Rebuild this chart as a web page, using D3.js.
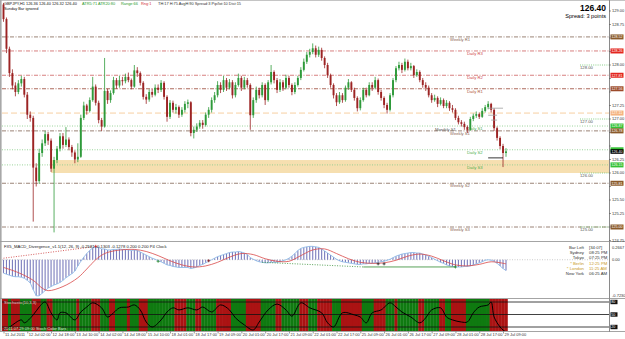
<!DOCTYPE html>
<html><head><meta charset="utf-8">
<script src="https://cdn.jsdelivr.net/npm/d3@7"></script>
<style>
html,body{margin:0;padding:0;background:#fff;}
svg{display:block;font-family:"Liberation Sans",Arial,sans-serif;}
</style></head><body>
<svg id="c" width="625" height="339"></svg>
<script>
// ---------------- DATA ----------------
const opens = [129.12,128.85,128.30,127.85,127.62,127.50,127.66,127.74,127.45,127.08,
127.02,126.10,125.85,126.37,126.55,126.72,126.60,126.08,126.24,126.45,
126.68,126.52,126.62,126.48,126.38,126.25,126.30,127.02,127.25,127.15,
127.35,127.60,127.30,126.98,126.86,127.52,127.35,127.48,127.72,127.62,
127.72,127.70,127.78,127.72,127.60,127.90,127.85,127.67,127.41,127.36,
127.50,127.45,127.58,127.54,127.67,127.41,127.04,127.30,127.17,127.22,
127.08,127.17,127.28,127.31,126.74,126.80,126.86,126.93,126.89,127.08,
127.17,127.35,127.44,127.63,127.54,127.72,127.58,127.68,127.44,127.63,
127.76,127.58,127.72,127.63,127.07,127.35,127.54,127.44,127.63,127.35,
127.68,127.87,127.72,127.54,127.68,127.58,127.76,127.63,127.50,127.63,
127.76,127.91,128.06,128.19,128.24,128.31,128.19,128.28,128.13,128.00,
127.81,127.63,127.44,127.31,127.44,127.35,127.58,127.68,127.54,127.39,
127.20,127.35,127.54,127.44,127.63,127.58,127.72,127.50,127.39,127.26,
127.17,127.44,127.72,127.94,128.00,127.91,128.06,127.94,127.98,127.81,
127.87,127.72,127.63,127.58,127.44,127.35,127.39,127.28,127.35,127.24,
127.30,127.20,127.17,127.02,126.94,126.91,126.85,126.80,127.00,127.06,
127.09,127.04,127.15,127.22,127.28,127.17,126.83,126.65,126.50,126.37];
const highs = [129.15,128.88,128.34,127.92,127.68,127.72,127.80,127.78,127.50,127.14,
127.06,126.18,126.45,126.62,126.78,126.76,126.64,126.30,126.50,126.74,
126.74,126.85,126.66,126.52,126.42,126.55,127.08,127.32,127.28,127.40,
127.78,127.64,127.34,127.02,128.13,127.56,127.53,127.78,127.76,127.80,
127.78,127.84,127.86,127.75,128.00,127.96,127.88,127.70,127.46,127.55,
127.56,127.64,127.64,127.72,127.70,127.44,127.35,127.34,127.28,127.25,
127.22,127.33,127.36,127.33,126.86,126.92,126.98,126.98,127.12,127.22,
127.40,127.50,127.70,127.68,127.80,127.76,127.74,127.72,127.68,127.84,
127.80,127.78,127.76,127.66,127.40,127.60,127.58,127.68,127.66,127.72,
128.00,127.90,127.76,127.74,127.72,127.82,127.80,127.66,127.68,127.80,
127.96,128.12,128.24,128.30,128.40,128.36,128.34,128.32,128.16,128.04,
127.84,127.66,127.48,127.50,127.48,127.62,127.74,127.70,127.58,127.42,
127.40,127.58,127.58,127.68,127.68,127.78,127.75,127.54,127.42,127.30,
127.48,127.76,127.98,128.06,128.04,128.12,128.10,128.04,128.00,127.92,
127.90,127.76,127.68,127.62,127.48,127.45,127.42,127.40,127.38,127.35,
127.33,127.26,127.20,127.06,126.98,126.95,126.88,127.04,127.10,127.14,
127.12,127.20,127.26,127.33,127.30,127.20,126.86,126.68,126.54,126.46];
const lows = [128.80,128.22,127.78,127.55,127.42,127.46,127.60,127.40,127.00,126.95,
125.10,125.75,125.80,126.30,126.50,126.52,126.02,124.90,126.18,126.40,
126.45,126.48,126.42,126.30,126.18,126.20,126.28,126.98,127.08,127.12,
127.32,127.25,126.92,126.78,126.84,127.28,127.30,127.45,127.56,127.58,
127.62,127.66,127.68,127.55,127.58,127.78,127.62,127.36,127.28,127.32,
127.40,127.42,127.48,127.50,127.36,126.95,127.00,127.12,127.10,127.02,
127.04,127.12,127.20,126.68,126.64,126.76,126.82,126.82,126.86,127.02,
127.12,127.30,127.40,127.48,127.50,127.52,127.55,127.38,127.40,127.60,
127.52,127.55,127.58,126.80,127.02,127.30,127.38,127.40,127.26,127.32,
127.64,127.66,127.48,127.50,127.52,127.55,127.58,127.44,127.46,127.60,
127.72,127.88,128.02,128.14,128.20,128.14,128.15,128.08,127.94,127.76,
127.58,127.38,127.24,127.28,127.30,127.32,127.54,127.50,127.34,127.14,
127.16,127.32,127.40,127.42,127.52,127.55,127.45,127.34,127.20,127.10,
127.14,127.40,127.68,127.90,127.85,127.88,127.90,127.90,127.76,127.78,
127.68,127.58,127.52,127.40,127.30,127.32,127.22,127.25,127.20,127.20,
127.15,127.12,126.98,126.90,126.86,126.80,126.74,126.78,126.96,127.02,
127.00,127.02,127.12,127.18,127.12,126.78,126.60,126.44,126.11,126.30];
const closes = [128.85,128.30,127.85,127.62,127.50,127.66,127.74,127.45,127.08,127.02,
126.10,125.85,126.37,126.55,126.72,126.60,126.08,126.24,126.45,126.68,
126.52,126.62,126.48,126.38,126.25,126.30,127.02,127.25,127.15,127.35,
127.60,127.30,126.98,126.86,127.52,127.35,127.48,127.72,127.62,127.72,
127.70,127.78,127.72,127.60,127.90,127.85,127.67,127.41,127.36,127.50,
127.45,127.58,127.54,127.67,127.41,127.04,127.30,127.17,127.22,127.08,
127.17,127.28,127.31,126.74,126.80,126.86,126.93,126.89,127.08,127.17,
127.35,127.44,127.63,127.54,127.72,127.58,127.68,127.44,127.63,127.76,
127.58,127.72,127.63,127.07,127.35,127.54,127.44,127.63,127.35,127.68,
127.87,127.72,127.54,127.68,127.58,127.76,127.63,127.50,127.63,127.76,
127.91,128.06,128.19,128.24,128.31,128.19,128.28,128.13,128.00,127.81,
127.63,127.44,127.31,127.44,127.35,127.58,127.68,127.54,127.39,127.20,
127.35,127.54,127.44,127.63,127.58,127.72,127.50,127.39,127.26,127.17,
127.44,127.72,127.94,128.00,127.91,128.06,127.94,127.98,127.81,127.87,
127.72,127.63,127.58,127.44,127.35,127.39,127.28,127.35,127.24,127.30,
127.20,127.17,127.02,126.94,126.91,126.85,126.80,127.00,127.06,127.09,
127.04,127.15,127.22,127.28,127.17,126.83,126.65,126.50,126.37,126.40];

const timeLabelIdx = [0,8,16,24,32,40,48,56,64,72,80,88,96,104,112,120,128,136,144,152,160,168];
const timeLabels = ["11 Jul 2011","12 Jul 02:00","12 Jul 18:00","13 Jul 10:00","14 Jul 02:00","14 Jul 18:00","15 Jul 10:00","18 Jul 01:00","18 Jul 17:00","19 Jul 09:00","20 Jul 01:00","20 Jul 17:00","21 Jul 09:00","22 Jul 01:00","22 Jul 17:00","25 Jul 09:00","26 Jul 01:00","26 Jul 17:00","27 Jul 09:00","28 Jul 01:00","28 Jul 17:00","29 Jul 09:00"];

const priceTicks = [129.00,128.75,128.50,128.25,128.00,127.75,127.50,127.25,127.00,126.75,126.50,126.25,126.00,125.75,125.50,125.25,125.00,124.75];
const roundLevels = [128.00,127.00,126.00,125.00];

const levelNames  = ["Weekly R1","Daily R3","Daily R2","Daily R1","Daily Pivot","Daily S1","Monthly S1","Weekly S1","Daily S2","Daily S3","Weekly S2","Weekly S3"];
const levelValues = [128.52,128.26,127.81,127.56,127.11,126.87,126.86,126.78,126.43,126.15,125.81,125.00];
const levelKinds  = ["weekly","dailyR","dailyR","dailyR1","pivot","dailyS","monthly","weekly","dailyS","dailyS","weekly","weekly"];

const zoneTop = 126.24, zoneBottom = 126.00, zoneStartIdx = 16;
const lastPrice = 126.40;

const markSegs = [[163,168,127.20,"#a0a0a0"],[163,166,127.07,"#a0a0a0"],[164,166,126.98,"#a0a0a0"],[163,168,126.28,"#000000"]];

const macdHist = [-0.26,-0.28,-0.30,-0.32,-0.33,-0.33,-0.34,-0.36,-0.40,-0.45,
-0.58,-0.70,-0.70,-0.65,-0.60,-0.55,-0.52,-0.49,-0.47,-0.44,
-0.40,-0.35,-0.31,-0.27,-0.22,-0.12,-0.03,0.05,0.12,0.18,
0.23,0.25,0.24,0.21,0.21,0.19,0.19,0.20,0.20,0.21,
0.20,0.20,0.19,0.18,0.19,0.18,0.15,0.12,0.09,0.06,
0.03,0.01,-0.02,-0.04,-0.07,-0.10,-0.11,-0.13,-0.14,-0.15,
-0.15,-0.15,-0.15,-0.17,-0.16,-0.14,-0.11,-0.09,-0.06,-0.03,
0.00,0.03,0.06,0.08,0.10,0.12,0.14,0.15,0.15,0.16,
0.15,0.13,0.10,0.04,0.01,-0.02,-0.04,-0.05,-0.06,-0.06,
-0.05,-0.05,-0.05,-0.04,-0.02,0.00,0.03,0.07,0.12,0.18,
0.22,0.24,0.25,0.26,0.26,0.25,0.24,0.21,0.17,0.13,
0.09,0.05,0.01,-0.02,-0.04,-0.05,-0.06,-0.07,-0.08,-0.09,
-0.09,-0.08,-0.08,-0.07,-0.07,-0.06,-0.05,-0.04,-0.03,-0.01,
0.01,0.04,0.07,0.09,0.11,0.12,0.13,0.14,0.14,0.13,
0.13,0.11,0.09,0.07,0.04,0.01,-0.02,-0.05,-0.07,-0.10,
-0.12,-0.13,-0.14,-0.14,-0.14,-0.13,-0.13,-0.12,-0.10,-0.08,
-0.06,-0.04,-0.01,0.00,-0.01,-0.03,-0.07,-0.12,-0.17,-0.21];
const signalIdx = [0,5,10,13,15,20,25,28,31,34,38,44,48,52,56,60,64,68,72,76,80,84,88,92,96,100,104,108,112,116,120,124,128,132,136,140,144,148,152,156,160,164,169];
const signalVal = [-0.15,-0.25,-0.40,-0.55,-0.60,-0.52,-0.35,-0.18,0.00,0.12,0.18,0.20,0.16,0.08,-0.02,-0.10,-0.14,-0.12,-0.05,0.05,0.12,0.10,0.02,-0.03,-0.03,0.08,0.19,0.21,0.12,0.02,-0.05,-0.07,-0.06,-0.01,0.07,0.11,0.07,-0.02,-0.10,-0.12,-0.09,-0.04,-0.08];
const macdTicks = [0.2667,0.00,-0.7230];
const divLines = [[0,0.03,30,0.25,"#cc3333","1,1.5"],[87,-0.05,121,-0.14,"#2e8b2e","1,1.5"],[121,-0.14,152,-0.14,"#2e8b2e",null]];
const divMarks = [[31,0.26,"#cc2222"],[52,-0.03,"#2e8b2e"],[69,-0.02,"#8b1a1a"],[126,-0.08,"#222222"],[128,-0.08,"#222222"],[152,-0.14,"#2e8b2e"]];

const stochIdx = [0,2,6,7,10,12,14,16,18,19,21,24,26,28,30,33,35,37,39,42,44,46,48,50,53,55,57,59,62,65,67,70,73,76,78,81,84,86,89,92,95,97,100,103,107,109,111,114,118,120,122,124,127,130,132,134,137,140,142,144,147,149,151,154,156,158,160,163,164,165,167,168,169];
const stochVal = [13,20,37,30,49,68,80,54,37,54,54,37,56,68,78,66,44,54,66,68,73,61,32,20,37,56,66,61,66,61,68,56,73,61,42,25,13,32,61,75,61,46,78,66,54,30,20,54,49,44,30,54,61,78,68,56,44,30,42,61,66,44,37,32,32,54,68,73,80,44,20,13,8];
const stochLevels = [80,50,20];
const stripeRuns = [["R",2],["G",1],["R",3],["G",4],["R",3],["G",2],["R",2],["G",8],["R",1],["G",4],["R",3],["G",3],["R",2],["G",4],["R",1],["G",3],["R",3],["G",9],["R",4],["G",3],["R",2],["G",5],["R",5],["G",5],["R",5],["G",5],["R",2],["G",6],["R",3],["G",3],["R",5],["G",3],["R",7],["G",4],["R",4],["G",3],["R",1],["G",7],["R",2],["G",5],["R",2],["G",2],["R",5],["G",8],["R",6]];

const clockNames = ["Bar Left","Sydney","Tokyo","* Berlin","* London","New York"];
const clockTimes = ["[34:07]","08:25 PM","07:25 PM","12:25 PM","11:25 AM","06:25 AM"];

// ---------------- LAYOUT ----------------
const N = closes.length;
const svg = d3.select("#c");
const L = 2, R = 609;
const P1 = [1, 241], P2 = [242, 298], P3 = [299, 331];
const x = d3.scaleLinear().domain([0, N - 1]).range([3.5, 506]);
const step = x(1) - x(0);
const y = d3.scaleLinear().domain([125, 129]).range([227, 11]);
const ym = d3.scaleLinear().domain([-0.723, 0.2667]).range([297, 246]);
const ys = d3.scaleLinear().domain([20, 80]).range([327, 302]);
const bull = "#2e9a3a", bear = "#9c2424";

const defs = svg.append("defs");
[["cp1",P1],["cp2",P2],["cp3",P3]].forEach(([id,p])=>{
  defs.append("clipPath").attr("id",id).append("rect").attr("x",L).attr("y",p[0]).attr("width",R-L).attr("height",p[1]-p[0]);
});

svg.append("rect").attr("width",625).attr("height",339).attr("fill","#fff");

// ---------- PRICE PANEL ----------
const g1 = svg.append("g").attr("clip-path","url(#cp1)");
g1.append("rect").attr("x",x(zoneStartIdx)).attr("y",y(zoneTop)).attr("width",R-x(zoneStartIdx)).attr("height",y(zoneBottom)-y(zoneTop)).attr("fill","#f6dfb0");

const kindStyle = {
  weekly:{stroke:"#8f7566",dash:"4,1.5,1,1.5",label:"#8c6450",lx:450,box:"#8b5a2b"},
  dailyR:{stroke:"#d27272",dash:"4,1.5,1,1.5",label:"#d04a4a",lx:467,box:"#e3261f"},
  dailyR1:{stroke:"#a4584a",dash:"4,1.5,1,1.5",label:"#b05a3a",lx:467,box:"#9c4a2a"},
  pivot:{stroke:"#f6c996",dash:"6,3",label:null,lx:0,box:"#f5b37f"},
  dailyS:{stroke:"#8fd08f",dash:"1,1.5",label:"#4caf50",lx:467,box:"#36c136"},
  monthly:{stroke:null,dash:null,label:"#555555",lx:435,box:null}
};
const levels = levelValues.map((v,i)=>({v,name:levelNames[i],k:kindStyle[levelKinds[i]]}));
g1.selectAll("line.lvl").data(levels.filter(d=>d.k.stroke)).join("line")
  .attr("x1",L).attr("x2",R).attr("y1",d=>y(d.v)).attr("y2",d=>y(d.v))
  .attr("stroke",d=>d.k.stroke).attr("stroke-width",0.9).attr("stroke-dasharray",d=>d.k.dash);
g1.selectAll("text.lvl").data(levels.filter(d=>d.k.label)).join("text")
  .attr("x",d=>d.k.lx).attr("y",d=>y(d.v)+4).attr("font-size",4.2).attr("fill",d=>d.k.label).text(d=>d.name);

// round-number markers
roundLevels.forEach(v=>{
  g1.append("line").attr("x1",580).attr("x2",R).attr("y1",y(v)).attr("y2",y(v)).attr("stroke","#6cc46c").attr("stroke-width",0.8).attr("stroke-dasharray","1,1.2");
  g1.append("text").attr("x",580).attr("y",y(v)+4).attr("font-size",4.2).attr("fill","#555").text(v.toFixed(2));
});

// candles
const bars = d3.range(N).map(i=>({i,o:opens[i],h:highs[i],l:lows[i],c:closes[i]}));
g1.selectAll("line.wick").data(bars).join("line")
  .attr("x1",d=>x(d.i)).attr("x2",d=>x(d.i)).attr("y1",d=>y(d.h)).attr("y2",d=>y(d.l))
  .attr("stroke",d=>d.c>=d.o?bull:bear).attr("stroke-width",0.8);
g1.selectAll("rect.body").data(bars).join("rect")
  .attr("x",d=>x(d.i)-0.95).attr("width",1.9)
  .attr("y",d=>y(Math.max(d.o,d.c))).attr("height",d=>Math.max(0.8,Math.abs(y(d.o)-y(d.c))))
  .attr("fill",d=>d.c>=d.o?bull:bear);

g1.selectAll("line.mk").data(markSegs).join("line")
  .attr("x1",d=>x(d[0])).attr("x2",d=>x(d[1])).attr("y1",d=>y(d[2])).attr("y2",d=>y(d[2]))
  .attr("stroke",d=>d[3]).attr("stroke-width",0.8);

// header texts
const hdr = svg.append("g").attr("font-size",3.9);
hdr.append("text").attr("x",4).attr("y",5).attr("fill","#111").text("GBPJPY,H1  126.36 126.40 126.32 126.40");
hdr.append("text").attr("x",4).attr("y",9.5).attr("fill","#111").text("Sunday Bar ignored");
hdr.append("text").attr("x",82).attr("y",5).attr("fill","#2a9a2a").text("ATR5:71 ATR20:80");
hdr.append("text").attr("x",121).attr("y",5).attr("fill","#2a9a2a").text("Range:66");
hdr.append("text").attr("x",141).attr("y",5).attr("fill","#d03030").text("Rng:1");
hdr.append("text").attr("x",158).attr("y",5).attr("fill","#333").text("TH:17  H:75  AvgH:90  Spread:3  Pip/lot:10  Dist:15");
svg.append("text").attr("x",606).attr("y",11).attr("text-anchor","end").attr("font-size",8.5).attr("font-weight","bold").attr("fill","#000").text(lastPrice.toFixed(2));
svg.append("text").attr("x",606).attr("y",17.5).attr("text-anchor","end").attr("font-size",5.6).attr("fill","#000").text("Spread: 3 points");

// ---------- MACD PANEL ----------
const g2 = svg.append("g").attr("clip-path","url(#cp2)");
g2.append("line").attr("x1",L).attr("x2",R).attr("y1",ym(0)).attr("y2",ym(0)).attr("stroke","#aaa").attr("stroke-width",0.6).attr("stroke-dasharray","1,1.5");
g2.selectAll("line.h").data(macdHist).join("line")
  .attr("x1",(d,i)=>x(i)).attr("x2",(d,i)=>x(i)).attr("y1",ym(0)).attr("y2",d=>ym(d))
  .attr("stroke","#7a7cbc").attr("stroke-width",1.1);
g2.append("path").datum(macdHist).attr("fill","none").attr("stroke","#8fbbe8").attr("stroke-width",0.9)
  .attr("d",d3.line().x((d,i)=>x(i)).y(d=>ym(d)));
g2.append("path").datum(signalIdx.map((k,j)=>[k,signalVal[j]])).attr("fill","none").attr("stroke","#d94848").attr("stroke-width",0.8)
  .attr("d",d3.line().x(d=>x(d[0])).y(d=>ym(d[1])).curve(d3.curveCatmullRom));
g2.selectAll("line.div").data(divLines).join("line")
  .attr("x1",d=>x(d[0])).attr("y1",d=>ym(d[1])).attr("x2",d=>x(d[2])).attr("y2",d=>ym(d[3]))
  .attr("stroke",d=>d[4]).attr("stroke-width",0.8).attr("stroke-dasharray",d=>d[5]);
divMarks.forEach(([k,v,c])=>{
  g2.append("path").attr("d",`M${x(k)-1.5},${ym(v)}h3M${x(k)},${ym(v)-1.5}v3`).attr("stroke",c).attr("stroke-width",0.8);
});
svg.append("text").attr("x",4).attr("y",247.5).attr("font-size",4.2).attr("fill","#222")
  .text("FX5_MACD_Divergence_v1.1(12, 26, 9) -0.2581 -0.1303 -0.1278 0.200 0.200  P4 Clock");
const clk = svg.append("g").attr("font-size",4.3);
clockNames.forEach((n,j)=>{
  const yy = 249 + j*5.2;
  const col = n.startsWith("*") ? "#c99a1e" : "#333";
  clk.append("text").attr("x",584).attr("y",yy).attr("text-anchor","end").attr("fill",col).text(n);
  clk.append("text").attr("x",589).attr("y",yy).attr("fill",col).text(clockTimes[j]);
});

// ---------- STOCH PANEL ----------
const g3 = svg.append("g").attr("clip-path","url(#cp3)");
const stripes = [];
stripeRuns.forEach(([c,n])=>{ for(let k=0;k<n;k++) stripes.push(c); });
g3.selectAll("rect.st").data(stripes).join("rect")
  .attr("x",(d,i)=>x(i)-step/2).attr("width",step+0.3).attr("y",P3[0]).attr("height",P3[1]-P3[0])
  .attr("fill",d=>d==="R"?"#ab1313":"#0f7a10");
g3.selectAll("line.lv").data(stochLevels).join("line")
  .attr("x1",L).attr("x2",R).attr("y1",d=>ys(d)).attr("y2",d=>ys(d)).attr("stroke","#111").attr("stroke-width",0.8);
g3.append("path").datum(stochIdx.map((k,j)=>[k,stochVal[j]])).attr("fill","none").attr("stroke","#000").attr("stroke-width",1)
  .attr("d",d3.line().x(d=>x(d[0])).y(d=>ys(d[1])).curve(d3.curveCatmullRom));
svg.append("text").attr("x",4).attr("y",303.5).attr("font-size",4).attr("fill","#e8d0d0").text("Stochastic(10,3,3)");
svg.append("text").attr("x",4).attr("y",330).attr("font-size",4).attr("fill","#d8e8d8").text("2011.07.29 09:00  Stoch Color Bars");

// ---------- FRAME / AXES ----------
const fr = svg.append("g");
fr.append("rect").attr("x",0).attr("y",0).attr("width",625).attr("height",1).attr("fill","#c4c4c4");
fr.append("rect").attr("x",0).attr("y",0).attr("width",1.6).attr("height",332).attr("fill","#a8a8a8");
[P1[1]+0.5, P2[1]+0.5, P3[1]+0.5].forEach(yy=>{
  fr.append("line").attr("x1",0).attr("x2",625).attr("y1",yy).attr("y2",yy).attr("stroke","#9a9a9a").attr("stroke-width",0.9);
});
fr.append("line").attr("x1",R+0.5).attr("x2",R+0.5).attr("y1",0).attr("y2",332).attr("stroke","#8a8a8a").attr("stroke-width",1);

// price axis (tick labels hidden where a level box covers them, as the terminal does)
const pa = svg.append("g").attr("font-size",4);
const boxed = levels.filter(d=>d.k.box).map(d=>y(d.v)).concat([y(lastPrice)]);
priceTicks.forEach(v=>{
  pa.append("line").attr("x1",R).attr("x2",R+2).attr("y1",y(v)).attr("y2",y(v)).attr("stroke","#555").attr("stroke-width",0.6);
  if (boxed.some(b=>Math.abs(b-y(v))<5.2)) return;
  pa.append("text").attr("x",R+3).attr("y",y(v)+1.4).attr("fill","#333").text(v.toFixed(2));
});
levels.filter(d=>d.k.box).forEach(d=>{
  pa.append("rect").attr("x",R+1.5).attr("y",y(d.v)-2.5).attr("width",13).attr("height",5).attr("fill",d.k.box);
  if (Math.abs(y(d.v)-y(lastPrice))<4.5) return;
  pa.append("text").attr("x",R+2.5).attr("y",y(d.v)+1.4).attr("font-size",3.6).attr("fill","#fff").text(d.v.toFixed(2));
});
pa.append("rect").attr("x",R+1.5).attr("y",y(lastPrice)-2.2).attr("width",13).attr("height",4.6).attr("fill","#000");
pa.append("text").attr("x",R+2.5).attr("y",y(lastPrice)+1.3).attr("font-size",3.6).attr("fill","#fff").text(lastPrice.toFixed(2));

// macd axis
macdTicks.forEach((v,j)=>{
  pa.append("text").attr("x",R+3).attr("y",ym(v)+(j===0?2.5:j===2?-0.5:1.4)).attr("fill","#333").text(v===0?"0.00":v.toFixed(4));
});
// stoch axis
stochLevels.forEach(v=>{
  pa.append("rect").attr("x",R+1.5).attr("y",ys(v)-2.2).attr("width",7).attr("height",4.4).attr("fill","#111");
  pa.append("text").attr("x",R+2.3).attr("y",ys(v)+1.4).attr("font-size",3.6).attr("fill","#fff").text(v);
});

// time axis
const ax = d3.axisBottom(x).tickValues(timeLabelIdx).tickSize(2).tickFormat((d,i)=>timeLabels[i]);
const gx = svg.append("g").attr("transform",`translate(0,${P3[1]+0.5})`).call(ax);
gx.select(".domain").remove();
gx.selectAll(".tick line").attr("stroke","#555").attr("stroke-width",0.6);
gx.selectAll(".tick text").attr("font-size",4).attr("fill","#333").attr("text-anchor","start").attr("dx",1).attr("dy",-0.6)
  .attr("font-family","Liberation Sans, Arial, sans-serif");
</script>
</body></html>
